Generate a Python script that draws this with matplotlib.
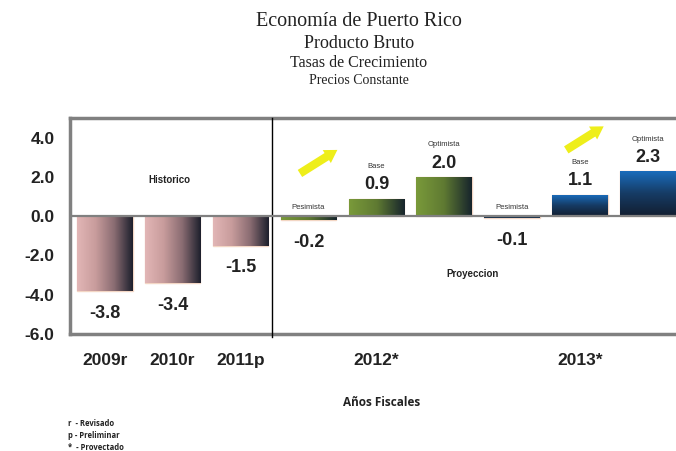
import numpy as np
import matplotlib.pyplot as plt
from matplotlib.colors import LinearSegmentedColormap

# growth rates, fiscal years
hist_labels = ["2009r", "2010r", "2011p"]
hist_values = [-3.8, -3.4, -1.5]
proj_years = ["2012*", "2013*"]
scenarios = ["Pesimista", "Base", "Optimista"]
proj_2012 = [-0.2, 0.9, 2.0]
proj_2013 = [-0.1, 1.1, 2.3]
yticks = [-6.0, -4.0, -2.0, 0.0, 2.0, 4.0]

W, H = 676, 451
fig = plt.figure(figsize=(W / 100, H / 100), dpi=100)
ax = fig.add_axes([70 / W, (H - 334) / H, (W - 70) / W, (334 - 118) / H])

pink = LinearSegmentedColormap.from_list("pink", ["#e2b6b6", "#c89c9c", "#8a6c72", "#1c1f2c"])
green = LinearSegmentedColormap.from_list("green", ["#7a9a3a", "#5f7a32", "#16242c"])
blue = LinearSegmentedColormap.from_list("blue", ["#121e30", "#163c66", "#1a6fc0"])

values = hist_values + proj_2012 + proj_2013
x = np.arange(len(values))
bw = 0.82
cmaps = [pink] * 3 + [green] * 3 + [blue] * 3

bars = ax.bar(x, values, width=bw, color="none", edgecolor="#f3d6c4", linewidth=1.0, zorder=5)
horiz = np.linspace(0, 1, 256).reshape(1, -1)
vert = np.linspace(0, 1, 256).reshape(-1, 1)
for b, cm in zip(bars, cmaps):
    x0, y0 = b.get_x(), b.get_y()
    x1, y1 = x0 + b.get_width(), y0 + b.get_height()
    lo, hi = min(y0, y1), max(y0, y1)
    grad = vert if cm is blue else horiz
    im = ax.imshow(grad, cmap=cm, extent=(x0, x1, lo, hi), origin="lower",
                   aspect="auto", zorder=5)
    im.set_clip_path(b)

ax.set_xlim(-0.51, 8.41)
ax.set_ylim(-6, 5)

# value labels
for xi, v in zip(x, values):
    off = -16 if v < 0 else 10
    ax.annotate(f"{v:.1f}", (xi, v), xytext=(0, off), textcoords="offset points",
                ha="center", va="center", fontsize=13, fontweight="bold",
                color="#222222", family="Liberation Sans")

# scenario names above the projection bars
for k, vals in enumerate([proj_2012, proj_2013]):
    for j, (name, v) in enumerate(zip(scenarios, vals)):
        xi = 3 + 3 * k + j
        if v < 0:
            off, base = 6, 0
        else:
            off, base = 23, v
        ax.annotate(name, (xi, base), xytext=(0, off), textcoords="offset points",
                    ha="center", va="center", fontsize=5.5, color="#333333",
                    family="Liberation Sans")

ax.text(0.95, 1.85, "Historico", ha="center", va="center", fontsize=7,
        fontweight="bold", color="#222222", family="Liberation Sans")
ax.text(5.41, -2.95, "Proyeccion", ha="center", va="center", fontsize=7,
        fontweight="bold", color="#222222", family="Liberation Sans")

# yellow arrows
for tail, tip in [((2.84, 2.1), (3.46, 3.45)), ((6.76, 3.3), (7.38, 4.65))]:
    ax.annotate("", xy=tip, xytext=tail,
                arrowprops=dict(arrowstyle="simple,head_width=1.1,head_length=0.9,tail_width=0.6",
                                color="#eeee1a", lw=0), zorder=6)

# separator between history and projection
ax.plot([2.47, 2.47], [-6.15, 5], color="black", lw=1.0, clip_on=False, zorder=6)
ax.axhline(0, color="#808080", lw=1.6, zorder=6)

for s in ["left", "top", "bottom"]:
    ax.spines[s].set_color("#808080")
    ax.spines[s].set_linewidth(2.5)
ax.spines["right"].set_visible(False)

ax.set_yticks(yticks)
ax.set_yticklabels([f"{t:.1f}" for t in yticks], fontsize=12.5, fontweight="bold",
                   color="#222222", family="Liberation Sans", va="center_baseline")
ax.tick_params(axis="y", length=0, pad=11)
ax.set_xticks([0, 1, 2, 4, 7])
ax.set_xticklabels(hist_labels + proj_years, fontsize=12.5, fontweight="bold",
                   color="#222222", family="Liberation Sans")
ax.tick_params(axis="x", length=0, pad=14)

# titles
tfont = "Liberation Serif"
for yy, s, fs in [(22, "Economía de Puerto Rico", 14.5), (44, "Producto Bruto", 13),
                  (63, "Tasas de Crecimiento", 11.5), (81, "Precios Constante", 10)]:
    fig.text(359 / W, 1 - yy / H, s, ha="center", va="center",
             fontsize=fs, family=tfont, color="#222222")

fig.text(382 / W, 1 - 403 / H, "Años Fiscales", ha="center", va="center",
         fontsize=8.5, fontweight="bold", family="Open Sans", color="#222222")
for yy, s in [(423, "r  - Revisado"), (435, "p - Preliminar"), (447, "*  - Provectado")]:
    fig.text(68 / W, 1 - yy / H, s, ha="left", va="center", fontsize=5.5,
             fontweight="bold", family="Open Sans", color="#222222")

fig.savefig("out.png", dpi=100)
